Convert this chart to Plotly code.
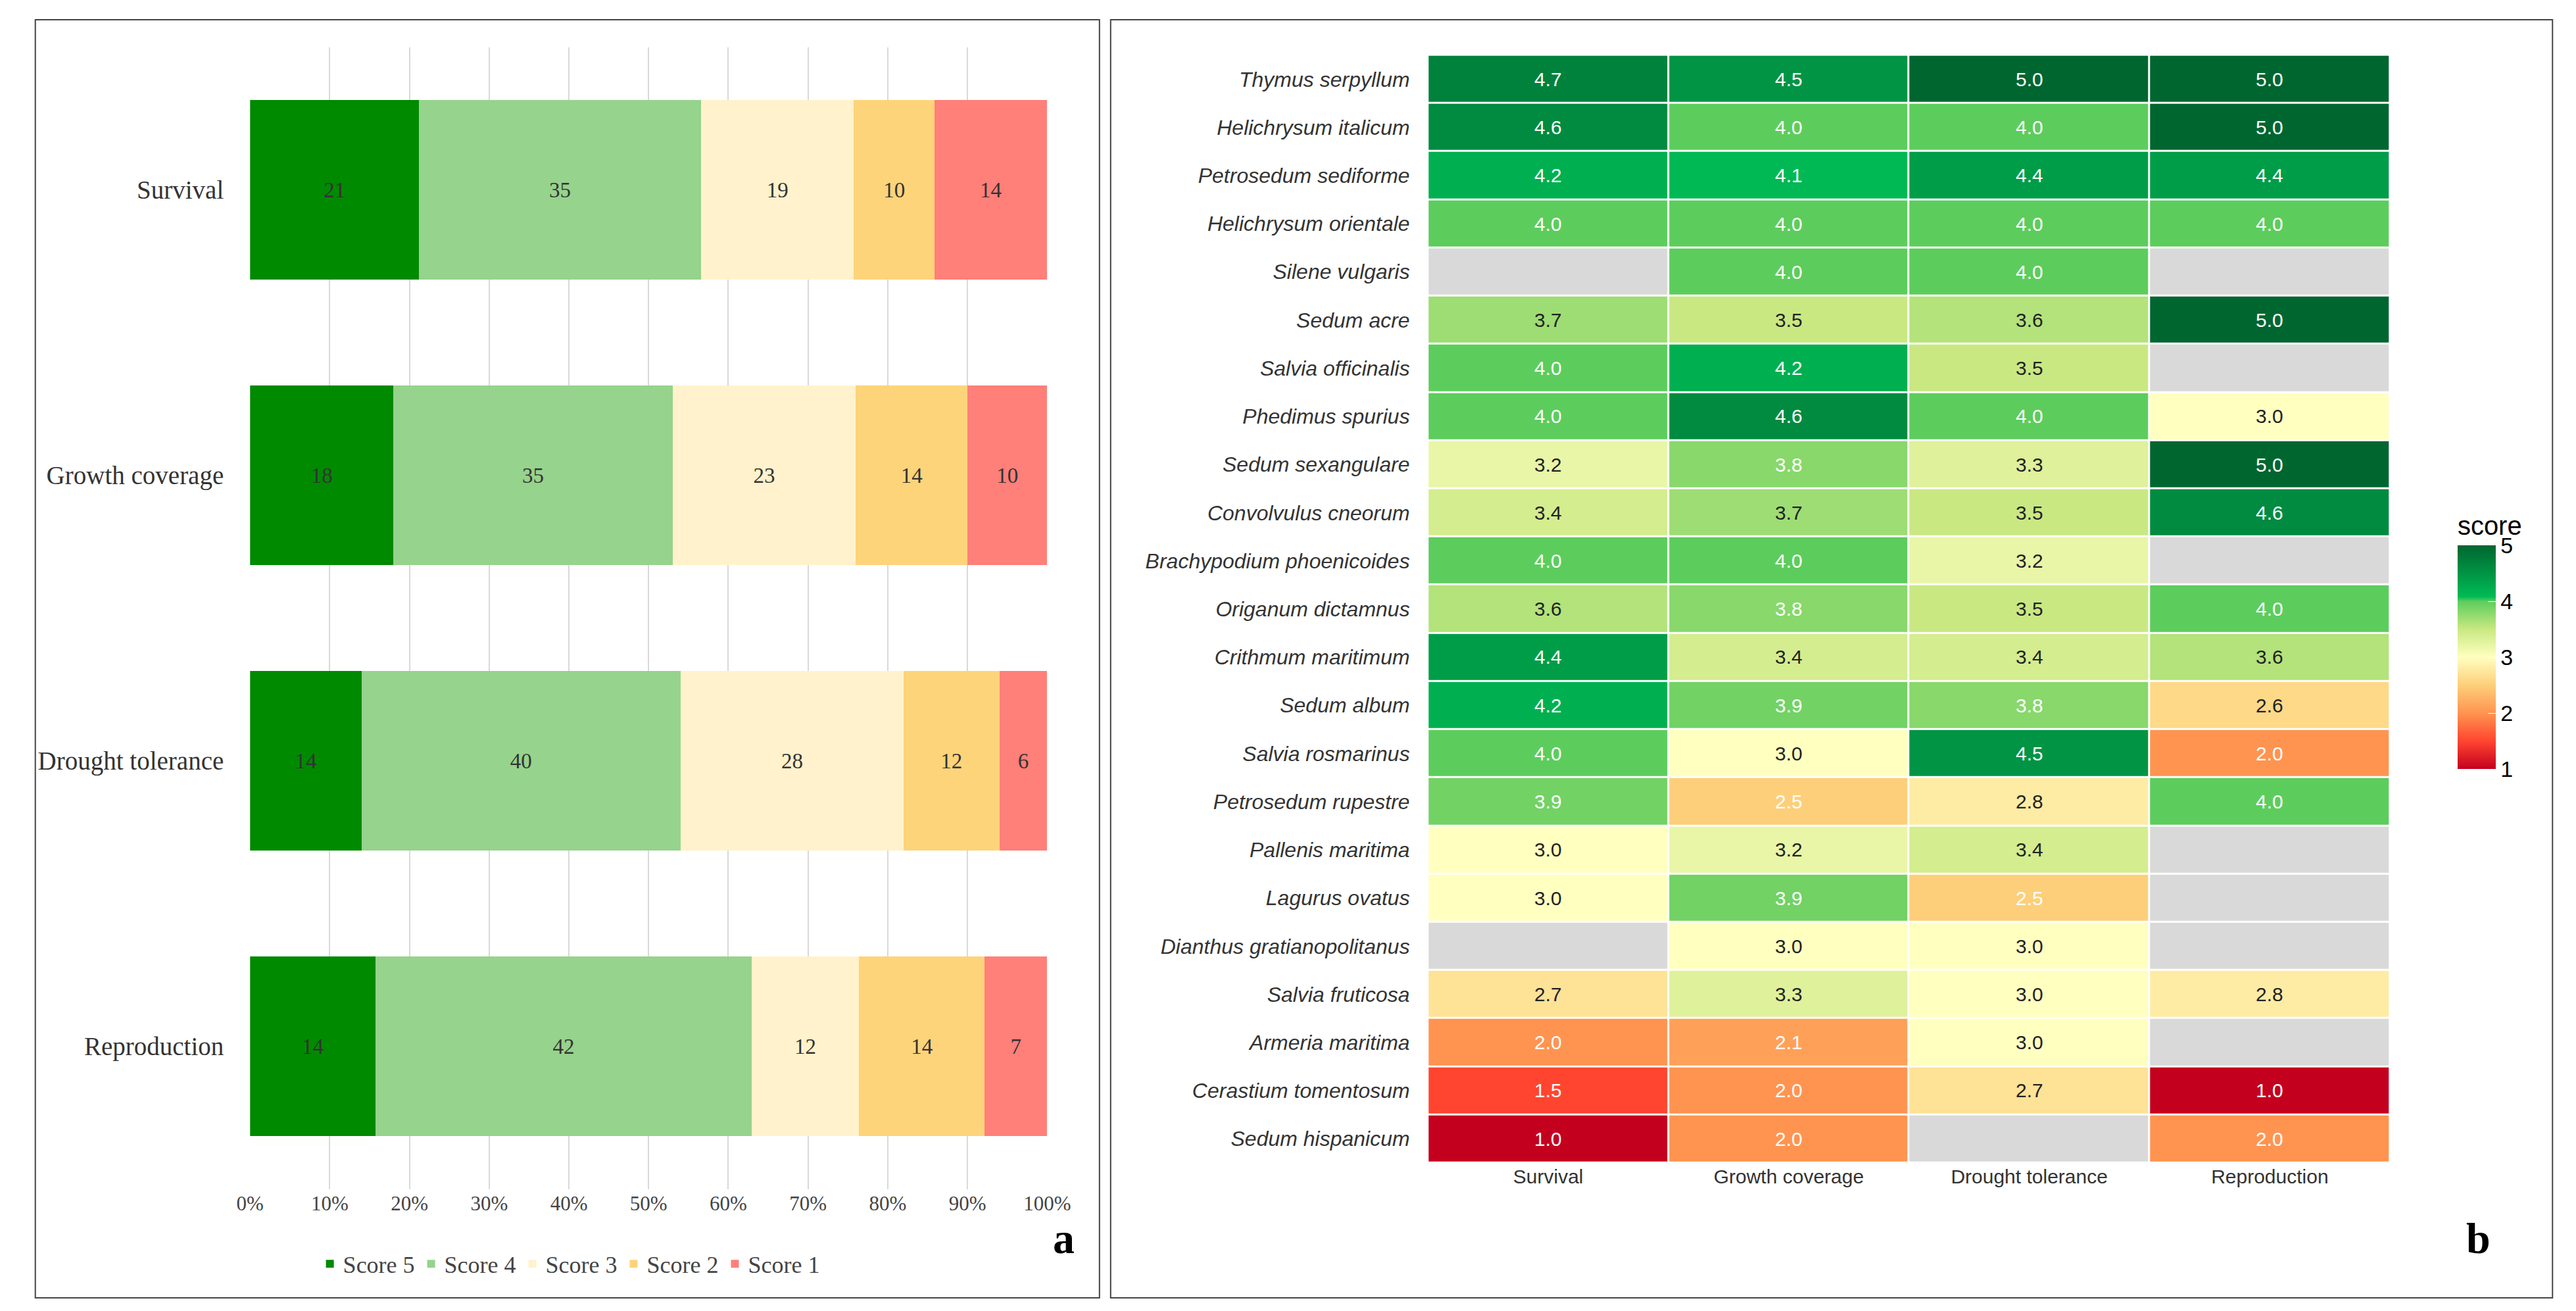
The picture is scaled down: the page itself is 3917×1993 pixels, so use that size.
import plotly.graph_objects as go

# panel a: stacked score counts per trait
traits = ["Survival", "Growth coverage", "Drought tolerance", "Reproduction"]
score_names = ["Score 5", "Score 4", "Score 3", "Score 2", "Score 1"]
score_counts = [
    [21, 18, 14, 14],
    [35, 35, 40, 42],
    [19, 23, 28, 12],
    [10, 14, 12, 14],
    [14, 10, 6, 7],
]
score_colors = ["#008a00", "#96d38c", "#fff2cc", "#fdd47a", "#ff7f79"]

# panel b: mean score per species
species = [
    "Thymus serpyllum", "Helichrysum italicum", "Petrosedum sediforme",
    "Helichrysum orientale", "Silene vulgaris", "Sedum acre", "Salvia officinalis",
    "Phedimus spurius", "Sedum sexangulare", "Convolvulus cneorum",
    "Brachypodium phoenicoides", "Origanum dictamnus", "Crithmum maritimum",
    "Sedum album", "Salvia rosmarinus", "Petrosedum rupestre", "Pallenis maritima",
    "Lagurus ovatus", "Dianthus gratianopolitanus", "Salvia fruticosa",
    "Armeria maritima", "Cerastium tomentosum", "Sedum hispanicum",
]
species_scores = [
    [4.7, 4.5, 5.0, 5.0],
    [4.6, 4.0, 4.0, 5.0],
    [4.2, 4.1, 4.4, 4.4],
    [4.0, 4.0, 4.0, 4.0],
    [None, 4.0, 4.0, None],
    [3.7, 3.5, 3.6, 5.0],
    [4.0, 4.2, 3.5, None],
    [4.0, 4.6, 4.0, 3.0],
    [3.2, 3.8, 3.3, 5.0],
    [3.4, 3.7, 3.5, 4.6],
    [4.0, 4.0, 3.2, None],
    [3.6, 3.8, 3.5, 4.0],
    [4.4, 3.4, 3.4, 3.6],
    [4.2, 3.9, 3.8, 2.6],
    [4.0, 3.0, 4.5, 2.0],
    [3.9, 2.5, 2.8, 4.0],
    [3.0, 3.2, 3.4, None],
    [3.0, 3.9, 2.5, None],
    [None, 3.0, 3.0, None],
    [2.7, 3.3, 3.0, 2.8],
    [2.0, 2.1, 3.0, None],
    [1.5, 2.0, 2.7, 1.0],
    [1.0, 2.0, None, 2.0],
]

SERIF = "Liberation Serif, Times New Roman, serif"
SANS = "Liberation Sans, Arial, sans-serif"

fig = go.Figure()

for name, counts, color in zip(score_names, score_counts, score_colors):
    fig.add_trace(go.Bar(
        y=traits, x=counts, name=name, orientation="h",
        marker=dict(color=color, line=dict(width=0)),
        text=counts, textposition="inside", insidetextanchor="middle",
        textfont=dict(family=SERIF, size=33, color="#333333"),
        xaxis="x", yaxis="y",
    ))

missing = [[1 if v is None else None for v in row] for row in species_scores]
fig.add_trace(go.Heatmap(
    z=missing, x=traits, y=species, xaxis="x2", yaxis="y2",
    colorscale=[[0, "#d9d9d9"], [1, "#d9d9d9"]], showscale=False,
    xgap=3, ygap=3, hoverinfo="skip",
))
fig.add_trace(go.Heatmap(
    z=species_scores, x=traits, y=species, xaxis="x2", yaxis="y2",
    zmin=1, zmax=5, xgap=3, ygap=3,
    colorscale=[
        [0.0, "#c4001f"], [0.125, "#ff4530"], [0.25, "#ff9450"],
        [0.375, "#fdcf7a"], [0.5, "#ffffc0"], [0.625, "#c9e882"],
        [0.75, "#5ccd5c"], [0.77, "#00bb55"], [1.0, "#006630"],
    ],
    colorbar=dict(
        title=dict(text="score", font=dict(family=SANS, size=40, color="black")),
        x=0.958, xanchor="left", y=0.515, yanchor="middle", len=0.205,
        thickness=58, outlinewidth=0, tickvals=[1, 2, 3, 4, 5],
        ticks="inside", tickcolor="white", ticklen=12,
        tickfont=dict(family=SANS, size=34, color="black"),
    ),
))

annotations = []
for sp, row in zip(species, species_scores):
    for tr, v in zip(traits, row):
        if v is None:
            continue
        col = "white" if (v >= 3.8 or v <= 2.5) else "#222222"
        annotations.append(dict(
            x=tr, y=sp, xref="x2", yref="y2", text=f"{v:.1f}", showarrow=False,
            font=dict(family=SANS, size=30, color=col),
        ))

annotations += [
    dict(x=0.4116, y=0.04, xref="paper", yref="paper", text="<b>a</b>", showarrow=False,
         font=dict(family=SERIF, size=66, color="black")),
    dict(x=0.974, y=0.04, xref="paper", yref="paper", text="<b>b</b>", showarrow=False,
         font=dict(family=SERIF, size=66, color="black")),
]

fig.update_layout(
    width=3917, height=1993, margin=dict(l=0, r=0, t=0, b=0),
    paper_bgcolor="white", plot_bgcolor="white",
    barmode="stack", barnorm="percent", bargap=0.37,
    xaxis=dict(domain=[0.091, 0.405], range=[0, 100], dtick=10, ticksuffix="%",
               showgrid=True, gridcolor="#d9d9d9", gridwidth=2, zeroline=False,
               tickfont=dict(family=SERIF, size=31, color="#444444")),
    yaxis=dict(domain=[0.097, 0.968], autorange="reversed", ticklen=0, ticks="",
               tickfont=dict(family=SERIF, size=39, color="#333333"), ticksuffix="    "),
    xaxis2=dict(domain=[0.555, 0.934], anchor="y2", showgrid=False, zeroline=False,
                ticks="", tickfont=dict(family=SANS, size=30, color="#333333")),
    yaxis2=dict(domain=[0.117, 0.962], anchor="x2", autorange="reversed", showgrid=False,
                ticks="", ticksuffix="   ",
                tickfont=dict(family=SANS, size=32, color="#333333", style="italic")),
    legend=dict(orientation="h", x=0.217, xanchor="center", y=0.04, yanchor="middle",
                font=dict(family=SERIF, size=36, color="#444444"), traceorder="normal"),
    annotations=annotations,
    shapes=[
        dict(type="rect", xref="paper", yref="paper", x0=0.0064, x1=0.4256, y0=0.014, y1=0.989,
             line=dict(color="#444444", width=2)),
        dict(type="rect", xref="paper", yref="paper", x0=0.430, x1=0.998, y0=0.014, y1=0.989,
             line=dict(color="#444444", width=2)),
    ],
)

fig.write_html("out.html")
